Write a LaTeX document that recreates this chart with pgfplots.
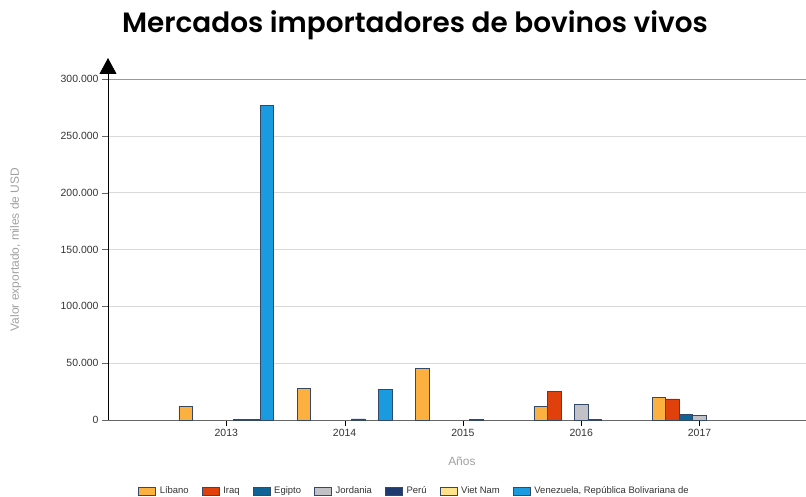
\documentclass[border=0pt]{standalone}
\usepackage{pgfplots}
\pgfplotsset{compat=1.18}
\usepackage{fontspec}
\setmainfont{Liberation Sans}
\newfontfamily\titlefont{Poppins SemiBold}
\usetikzlibrary{arrows.meta}

\definecolor{cLibano}{HTML}{FBB040}
\definecolor{cIraq}{HTML}{E0400C}
\definecolor{cEgipto}{HTML}{0F6495}
\definecolor{cJordania}{HTML}{C2C2C6}
\definecolor{cPeru}{HTML}{1F3A6E}
\definecolor{cViet}{HTML}{FFE38A}
\definecolor{cVene}{HTML}{1A9BE0}
\definecolor{edge}{HTML}{34496A}
\definecolor{ticktext}{HTML}{333333}
\definecolor{labgray}{HTML}{A0A0A0}
\definecolor{topline}{HTML}{8A9BB5}

\begin{document}
\begin{tikzpicture}
\path[use as bounding box] (0,0) rectangle (806bp,497bp);

\node[font=\titlefont\fontsize{28}{32}\selectfont] at (415bp,472bp)
  {Mercados importadores de bovinos vivos};

\begin{axis}[
    at={(108bp,77bp)}, anchor=south west,
    scale only axis, width=698bp, height=341bp,
    clip=false,
    xmin=-1, xmax=4.9, ymin=0, ymax=300000,
    ybar=0pt, bar width=0.1144,
    axis x line*=bottom, axis y line*=left,
    x axis line style={draw=gray!80!black, -},
    y axis line style={draw=none},
    xtick={0,...,4}, xticklabels={2013,2014,2015,2016,2017},
    ytick={0,50000,...,300000},
    scaled y ticks=false,
    /pgf/number format/.cd, fixed, assume math mode=true, 1000 sep={.},
    /pgfplots/.cd,
    tick align=outside, major tick length=6bp,
    xtick style={black},
    ytick style={gray!80!black},
    ymajorgrids, grid style={draw=gray!30},
    tick label style={font=\fontsize{10.5}{12}\selectfont, text=ticktext},
    xlabel={Años}, ylabel={Valor exportado, miles de USD},
    label style={font=\fontsize{12}{14}\selectfont, text=labgray},
    xlabel style={at={(axis description cs:0.507,-0.12)}, anchor=center},
    ylabel style={at={(axis description cs:-0.132,0.5)}, anchor=center},
    legend columns=7,
    legend style={at={(axis description cs:0.439,-0.208)}, anchor=center,
        draw=none, font=\fontsize{9.5}{11}\selectfont, text=ticktext,
        /tikz/every odd column/.append style={column sep=2bp},
        /tikz/every even column/.append style={column sep=11bp}},
    legend image code/.code={\draw[#1] (0bp,-4bp) rectangle (17bp,4bp);},
    every axis plot/.append style={draw=edge, line width=0.6pt},
]
\addplot[fill=cLibano]   coordinates {(0,12300) (1,27500) (2,45700) (3,12300) (4,20200)};
\addplot[fill=cIraq]     coordinates {(3,25500) (4,18500)};
\addplot[fill=cEgipto]   coordinates {(4,5000)};
\addplot[fill=cJordania] coordinates {(3,14000) (4,4000)};
\addplot[fill=cPeru]     coordinates {(0,800) (1,900) (2,700) (3,800)};
\addplot[fill=cViet]     coordinates {(0,500)};
\addplot[fill=cVene]     coordinates {(0,277000) (1,26800)};
\legend{Líbano, Iraq, Egipto, Jordania, Perú, Viet Nam, {Venezuela, República Bolivariana de}}
\draw[draw=topline, line width=1pt] (rel axis cs:0,1) -- (rel axis cs:1,1);
\draw[black, line width=0.8pt, -{Triangle[width=17bp,length=16bp]}]
  (rel axis cs:0,0) -- ([yshift=21bp]rel axis cs:0,1);
\end{axis}
\end{tikzpicture}
\end{document}
